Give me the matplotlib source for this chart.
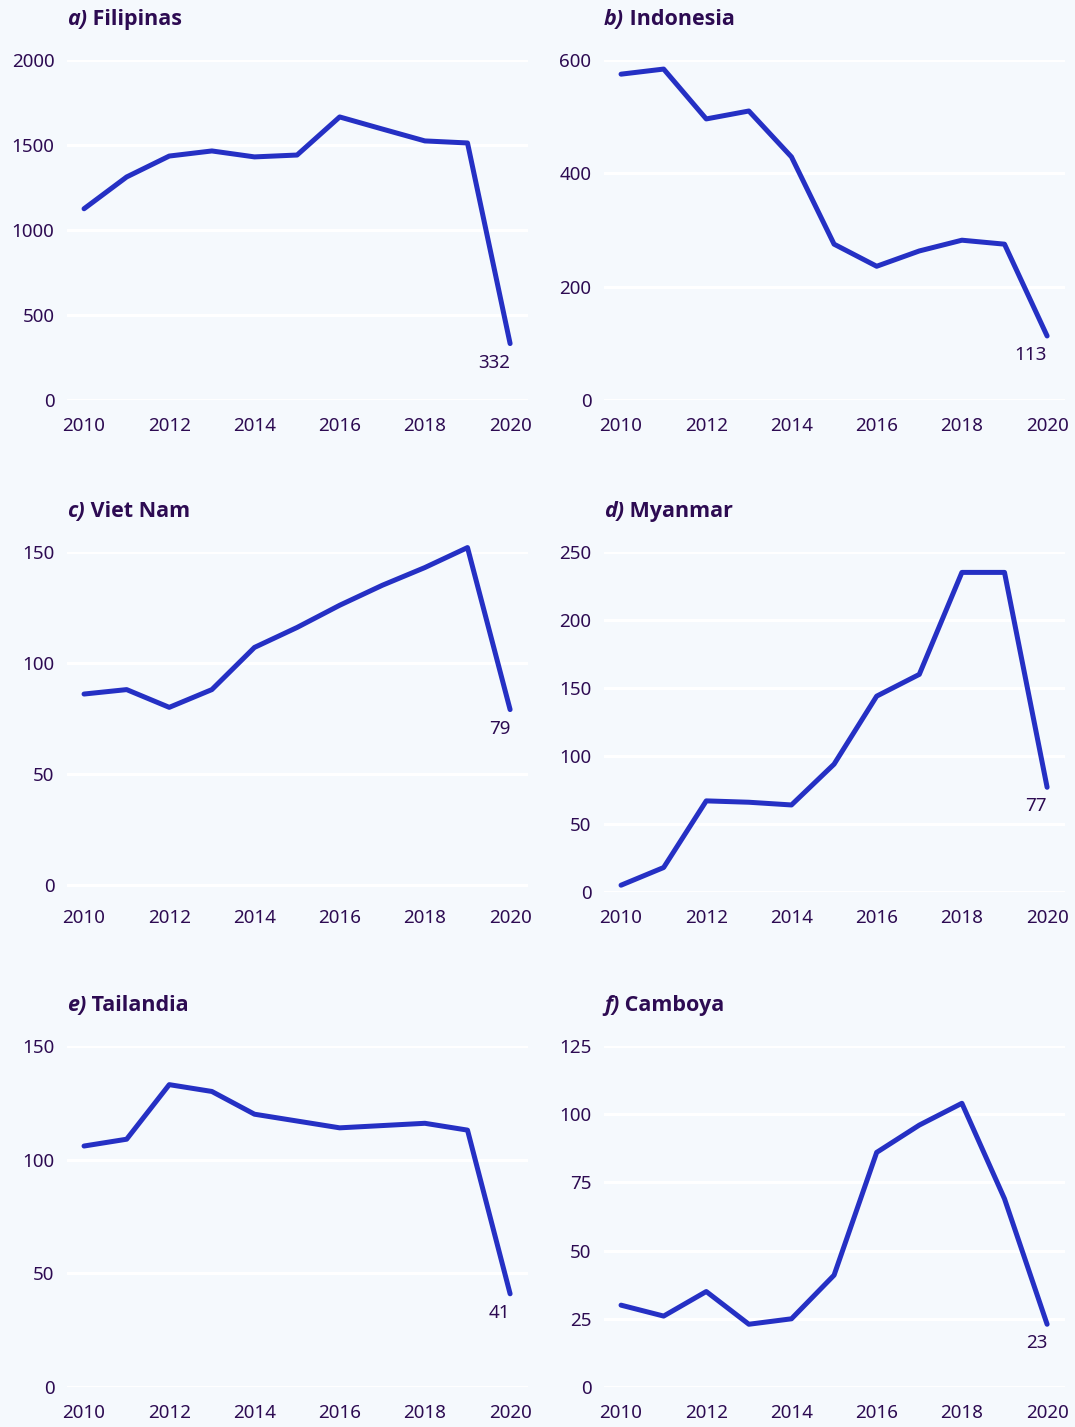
import matplotlib
matplotlib.use("Agg")
import matplotlib.pyplot as plt

# data
years = list(range(2010, 2021))

filipinas = [1125, 1312, 1435, 1465, 1430, 1441, 1665, 1594, 1524, 1512, 332]
indonesia = [575, 584, 496, 510, 429, 275, 236, 263, 282, 275, 113]
viet_nam = [86, 88, 80, 88, 107, 116, 126, 135, 143, 152, 79]
myanmar = [5, 18, 67, 66, 64, 94, 144, 160, 235, 235, 77]
tailandia = [106, 109, 133, 130, 120, 117, 114, 115, 116, 113, 41]
camboya = [30, 26, 35, 23, 25, 41, 86, 96, 104, 69, 23]

letters = ["a)", "b)", "c)", "d)", "e)", "f)"]
countries = ["Filipinas", "Indonesia", "Viet Nam", "Myanmar", "Tailandia", "Camboya"]
series = [filipinas, indonesia, viet_nam, myanmar, tailandia, camboya]
yticks = [
    [0, 500, 1000, 1500, 2000],
    [0, 200, 400, 600],
    [0, 50, 100, 150],
    [0, 50, 100, 150, 200, 250],
    [0, 50, 100, 150],
    [0, 25, 50, 75, 100, 125],
]
ylims = [(0, 2000), (0, 600), (-3.2, 150), (0, 250), (0, 150), (0, 125)]
xticks = [2010, 2012, 2014, 2016, 2018, 2020]

BG = "#F5F9FD"
LINE = "#2530C4"
TEXT = "#2D0B52"

plt.rcParams["font.family"] = ["Noto Sans", "DejaVu Sans"]
TITLE_FONT = ["Open Sans", "DejaVu Sans"]

W, H = 1075, 1427
fig = plt.figure(figsize=(W / 100, H / 100), dpi=100, facecolor=BG)

col_x = [67, 604]
row_y = [(60, 400), (552, 892), (1046, 1387)]
ax_w = 461

for i, (vals, name, letter) in enumerate(zip(series, countries, letters)):
    r, c = divmod(i, 2)
    top, bottom = row_y[r]
    ax = fig.add_axes([col_x[c] / W, 1 - bottom / H, ax_w / W, (bottom - top) / H])
    ax.set_facecolor(BG)
    ax.plot(years, vals, color=LINE, lw=3.6, solid_joinstyle="round",
            solid_capstyle="round", clip_on=False, zorder=3)
    ax.set_xlim(2009.6, 2020.42)
    ax.set_ylim(*ylims[i])
    ax.set_xticks(xticks)
    ax.set_yticks(yticks[i])
    ax.grid(axis="y", color="white", lw=2.2)
    ax.set_axisbelow(True)
    for s in ax.spines.values():
        s.set_visible(False)
    ax.tick_params(length=0, labelsize=13.5, labelcolor=TEXT)
    ax.tick_params(axis="y", pad=9)
    ax.tick_params(axis="x", pad=12)

    # value label at the last point
    ax.annotate(str(vals[-1]), xy=(years[-1], vals[-1]), xytext=(0, -10),
                textcoords="offset pixels", ha="right", va="top",
                fontsize=13.5, color=TEXT)

    # panel title: bold italic letter + bold country name
    t = ax.annotate(letter, xy=(0, 1), xycoords="axes fraction",
                    xytext=(0, 35), textcoords="offset pixels",
                    ha="left", va="baseline", fontsize=15.5, fontweight="bold",
                    fontstyle="italic", color=TEXT, family=TITLE_FONT)
    ax.annotate(" " + name, xy=(1, 0), xycoords=t, ha="left", va="bottom",
                fontsize=15.5, fontweight="bold", color=TEXT, family=TITLE_FONT)

fig.savefig("out.png", dpi=100, facecolor=BG)
